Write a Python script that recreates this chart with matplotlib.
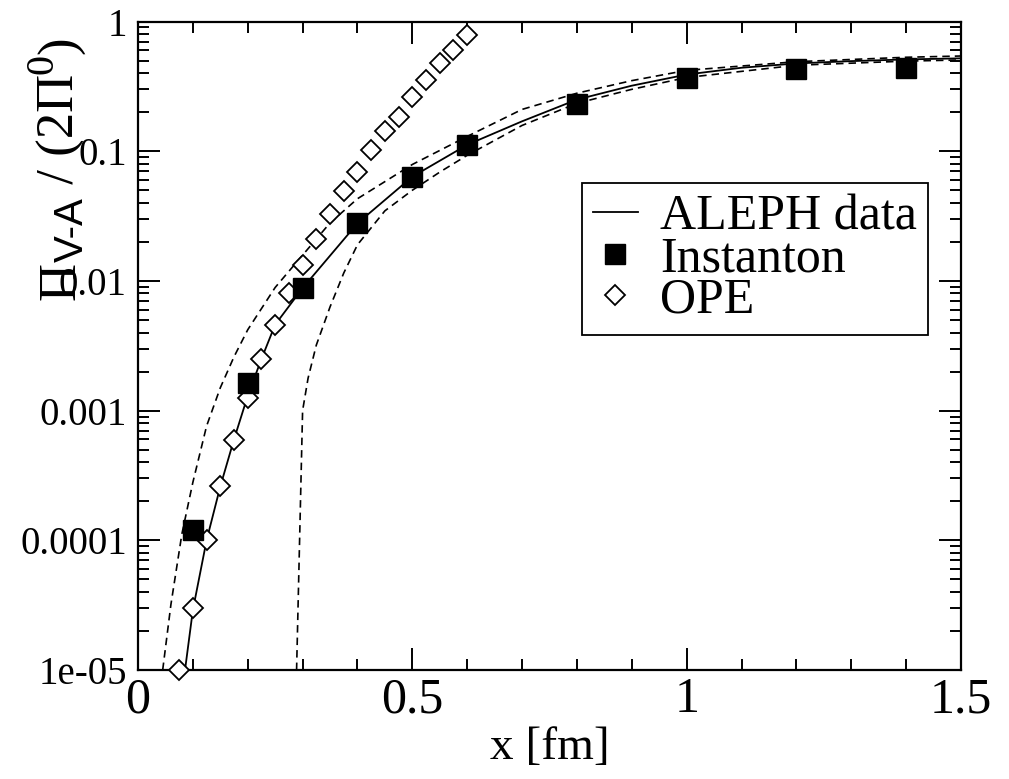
import matplotlib
matplotlib.use("Agg")
import matplotlib.pyplot as plt
from matplotlib.ticker import FixedLocator, LogLocator, NullFormatter, FixedFormatter
from matplotlib.transforms import IdentityTransform
import numpy as np

# ---------------- data ----------------
aleph_x = [0.0857, 0.1, 0.125, 0.15, 0.175, 0.2, 0.225, 0.25, 0.3, 0.4, 0.5, 0.6,
           0.7, 0.8, 0.9, 1.0, 1.1, 1.2, 1.3, 1.4, 1.5]
aleph_y = [1.0e-5, 2.9e-5, 1.0e-4, 2.6e-4, 6.0e-4, 1.3e-3, 2.5e-3, 4.6e-3, 8.8e-3,
           0.0278, 0.0636, 0.112, 0.17, 0.25, 0.32, 0.39, 0.44, 0.475, 0.495, 0.51, 0.52]

upper_x = [0.045, 0.06, 0.08, 0.1, 0.125, 0.15, 0.175, 0.2, 0.25, 0.3, 0.35, 0.4,
           0.5, 0.6, 0.7, 0.8, 0.9, 1.0, 1.2, 1.4, 1.5]
upper_y = [1.0e-5, 3.2e-5, 1.12e-4, 2.8e-4, 7.6e-4, 1.5e-3, 2.6e-3, 4.2e-3, 8.9e-3,
           0.0158, 0.028, 0.043, 0.079, 0.13, 0.21, 0.28, 0.35, 0.42, 0.49, 0.53, 0.542]

lower_x = [0.2885, 0.30, 0.31, 0.325, 0.35, 0.375, 0.4, 0.45, 0.5, 0.55, 0.6, 0.7,
           0.8, 0.9, 1.0, 1.2, 1.4, 1.5]
lower_y = [8.0e-6, 1.0e-3, 1.78e-3, 3.2e-3, 6.3e-3, 0.0115, 0.019, 0.0347, 0.050,
           0.069, 0.093, 0.158, 0.234, 0.30, 0.37, 0.46, 0.495, 0.505]

inst_x = [0.1, 0.2, 0.3, 0.4, 0.5, 0.6, 0.8, 1.0, 1.2, 1.4]
inst_y = [1.2e-4, 1.63e-3, 8.8e-3, 0.0278, 0.0636, 0.112, 0.231, 0.365, 0.428, 0.436]

ope_x = [0.075, 0.1, 0.125, 0.15, 0.175, 0.2, 0.225, 0.25, 0.275, 0.3, 0.325, 0.35,
         0.375, 0.4, 0.425, 0.45, 0.475, 0.5, 0.525, 0.55, 0.575, 0.6]
ope_y = [1.0e-5, 3.0e-5, 1.0e-4, 2.6e-4, 5.9e-4, 1.25e-3, 2.5e-3, 4.6e-3, 8.1e-3,
         1.33e-2, 2.1e-2, 3.3e-2, 4.9e-2, 6.9e-2, 0.102, 0.144, 0.185, 0.263, 0.354,
         0.476, 0.604, 0.787]

x_ticks = [0, 0.5, 1, 1.5]
x_tick_labels = ["0", "0.5", "1", "1.5"]
y_ticks = [1e-5, 1e-4, 1e-3, 1e-2, 1e-1, 1]
y_tick_labels = ["1e-05", "0.0001", "0.001", "0.01", "0.1", "1"]

legend_labels = ["ALEPH data", "Instanton", "OPE"]
xlabel_text = "x [fm]"
# y label pieces: (text, role) -> main / sub / sup
ylabel_pieces = [("\u03a0", "main"), ("V-A", "sub"), (" / (2\u03a0", "main"),
                 ("0", "sup"), (")", "main")]

# ---------------- style ----------------
SERIF = ['Liberation Serif', 'DejaVu Serif']
plt.rcParams['font.family'] = SERIF

W, H = 1009, 779
fig = plt.figure(figsize=(W/100, H/100), dpi=100)
ax = fig.add_axes([138/W, 1-670/H, (961-138)/W, (670-21.5)/H])

ax.set_yscale('log')
ax.set_xlim(0, 1.5)
ax.set_ylim(1e-5, 1)

l1, = ax.plot(aleph_x, aleph_y, color='black', lw=1.3)
ax.plot(upper_x, upper_y, color='black', lw=1.2, ls=(0, (4.5, 3)))
ax.plot(lower_x, lower_y, color='black', lw=1.2, ls=(0, (4.5, 3)))
l2, = ax.plot(inst_x, inst_y, ls='none', marker='s', ms=14, color='black',
              mec='black', clip_on=False, zorder=4)
l3, = ax.plot(ope_x, ope_y, ls='none', marker='D', ms=10, mfc='white',
              mec='black', mew=1.3, clip_on=False, zorder=3)

# ticks
ax.xaxis.set_major_locator(FixedLocator(x_ticks))
ax.xaxis.set_major_formatter(FixedFormatter(x_tick_labels))
ax.xaxis.set_minor_locator(FixedLocator(np.arange(0, 1.51, 0.1)))
ax.yaxis.set_major_locator(FixedLocator(y_ticks))
ax.yaxis.set_major_formatter(FixedFormatter(y_tick_labels))
ax.yaxis.set_minor_locator(LogLocator(base=10, subs=np.arange(2, 10), numticks=20))
ax.yaxis.set_minor_formatter(NullFormatter())

ax.tick_params(which='both', direction='in', top=True, right=True, width=1.4, color='black')
ax.tick_params(which='major', length=16)
ax.tick_params(which='minor', length=8)
ax.tick_params(axis='x', which='major', labelsize=36, pad=5)
ax.tick_params(axis='y', which='major', labelsize=28, pad=8)
for s in ax.spines.values():
    s.set_linewidth(1.6)

ax.set_xlabel(xlabel_text, fontsize=34, labelpad=2)

# y label built from pieces, running upward (rotated 90 deg)
renderer = fig.canvas.get_renderer()
base_x = 74.0            # baseline position in pixels from left
y_pos = H - 300.0        # start (bottom) in display pixels
styles = {
    "main": dict(fontsize=38, family=SERIF, shift=0.0),
    "sub": dict(fontsize=29, family=['Liberation Sans', 'DejaVu Sans'], shift=9.0),
    "sup": dict(fontsize=29, family=SERIF, shift=-22.0),
}
for txt, role in ylabel_pieces:
    st = styles[role]
    t = fig.text(base_x + st["shift"], y_pos, txt, rotation=90, rotation_mode='anchor',
                 ha='left', va='baseline', fontsize=st["fontsize"], family=st["family"],
                 transform=IdentityTransform())
    bb = t.get_window_extent(renderer)
    y_pos += bb.height

leg = ax.legend([l1, l2, l3], legend_labels, loc='upper left',
                bbox_to_anchor=((581.7-138)/823, (670-183)/648.5),
                fontsize=36, frameon=True, fancybox=False, edgecolor='black',
                framealpha=1, borderpad=0.22, labelspacing=-0.1, handlelength=0.9,
                handletextpad=0.45, borderaxespad=0, markerscale=1.0)
leg.get_frame().set_linewidth(1.3)

fig.savefig('out.png', dpi=100)
